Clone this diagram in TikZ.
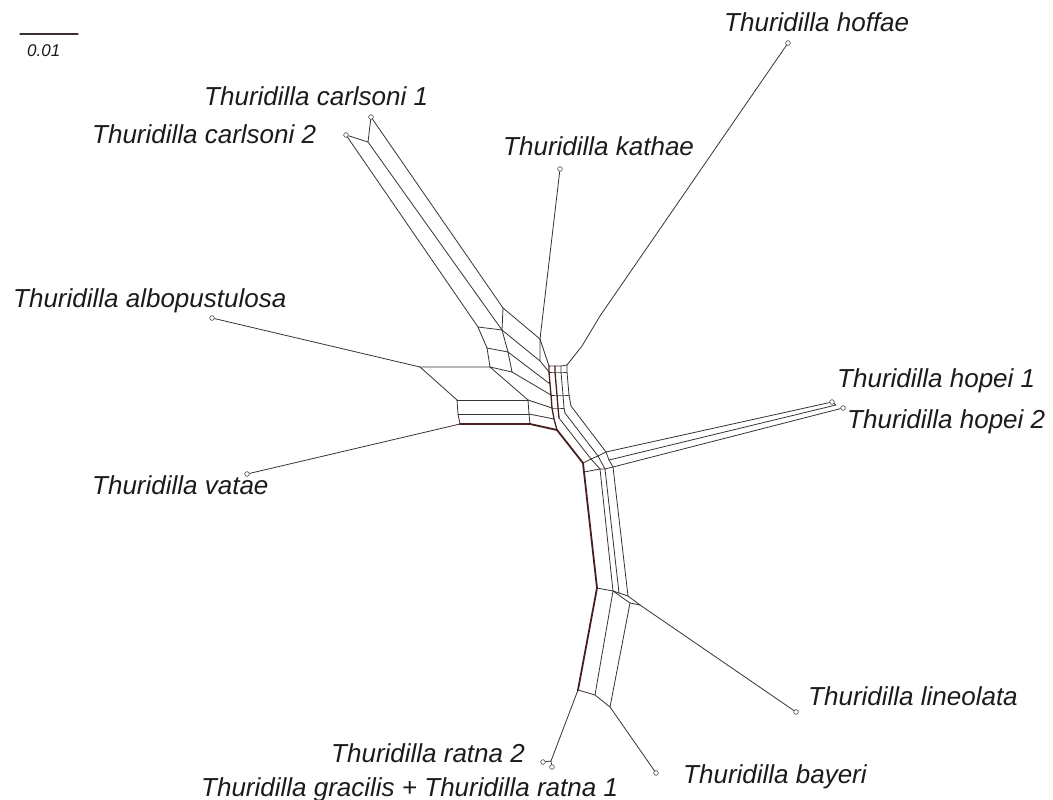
\documentclass[tikz,border=0pt]{standalone}
\usepackage{fontspec}
\setmainfont{Liberation Sans}
\definecolor{lc}{HTML}{3B3131}
\definecolor{tc}{HTML}{4A1E1E}
\definecolor{dc}{HTML}{6A6262}
\definecolor{txt}{HTML}{1E1A1A}
\begin{document}
\begin{tikzpicture}[x=1pt,y=-1pt,
  ln/.style={draw=lc, line width=0.8pt, line join=round, line cap=round},
  md/.style={draw=tc, line width=1.3pt, line join=round, line cap=round},
  tk/.style={draw=tc, line width=1.8pt, line join=round, line cap=round},
  leaf/.style={circle, draw=dc, fill=white, line width=0.6pt, inner sep=0pt, minimum size=4.5pt},
  lab/.style={anchor=base west, inner sep=0pt, font=\fontsize{26}{30}\selectfont\itshape, text=txt},
  slab/.style={anchor=base west, inner sep=0pt, font=\fontsize{17}{20}\selectfont\itshape, text=txt}]
\useasboundingbox (0,0) rectangle (1053,800);
% scale bar
\coordinate (sb1) at (20,34);
\coordinate (sb2) at (78,34);
\draw[ln, line width=1.2pt] (sb1) -- (sb2);
\node[slab] (sbl) at (27,57) {0.01};
% leaves
\node[leaf] (Lhof) at (788,43) {};
\node[leaf] (Lc1) at (371,117) {};
\node[leaf] (Lc2) at (346,135) {};
\node[leaf] (Lkat) at (560,169) {};
\node[leaf] (Lalb) at (212,318) {};
\node[leaf] (Lvat) at (247,474) {};
\node[leaf] (Lhp1) at (832,402) {};
\node[leaf] (Lhp2) at (843,408) {};
\node[leaf] (Llin) at (796,712) {};
\node[leaf] (Lr2) at (543,762) {};
\node[leaf] (Lgr) at (552,767) {};
\node[leaf] (Lbay) at (656,773) {};
% internal nodes
\coordinate (cA) at (368,142);
\coordinate (m1) at (503,308);
\coordinate (m2) at (502,330);
\coordinate (m3) at (478,327);
\coordinate (k1) at (540,339);
\coordinate (d1) at (540,361);
\coordinate (m4) at (487,348);
\coordinate (m5) at (508,352);
\coordinate (m6) at (490,367);
\coordinate (m7) at (512,372);
\coordinate (a1) at (420,367);
\coordinate (b1) at (457,400);
\coordinate (b2) at (458,414);
\coordinate (b3) at (460,424);
\coordinate (b4) at (528,400);
\coordinate (b5) at (529,414);
\coordinate (b6) at (530,424);
\coordinate (h1) at (600,316);
\coordinate (h2) at (582,346);
\coordinate (v0) at (549,366);
\coordinate (v1) at (555,366);
\coordinate (v2) at (561,366);
\coordinate (v3) at (567,365);
\coordinate (e1) at (549,372);
\coordinate (e2) at (550,384);
\coordinate (e3) at (551,395);
\coordinate (e4) at (552,408);
\coordinate (e5) at (554,419);
\coordinate (e6) at (557,430);
\coordinate (f1) at (555,372);
\coordinate (f3) at (557,395);
\coordinate (f4) at (558,408);
\coordinate (f5) at (559,418);
\coordinate (g1) at (561,372);
\coordinate (g3) at (563,395);
\coordinate (g4) at (564,408);
\coordinate (g5) at (565,413);
\coordinate (q1) at (567,372);
\coordinate (q3) at (569,395);
\coordinate (q4) at (571,406);
\coordinate (j0) at (583,463);
\coordinate (j1) at (591,459);
\coordinate (j2) at (598,456);
\coordinate (j3) at (606,452);
\coordinate (jm) at (609,460);
\coordinate (l0) at (584,472);
\coordinate (l1) at (600,469);
\coordinate (l2) at (605,469);
\coordinate (l3) at (613,467);
\coordinate (hm) at (836,405);
\coordinate (n0) at (597,588);
\coordinate (n1) at (613,591);
\coordinate (n1b) at (619,593);
\coordinate (n2) at (628,596);
\coordinate (n3) at (630,603);
\coordinate (n4) at (640,605);
\coordinate (p0) at (578,690);
\coordinate (p1) at (595,695);
\coordinate (p2) at (610,707);
\coordinate (rj) at (551,761);
% carlsoni band
\draw[ln] (Lc1) -- (cA) -- (Lc2);
\draw[ln] (Lc1) -- (m1);
\draw[ln] (cA) -- (m2);
\draw[ln] (Lc2) -- (m3);
\draw[ln] (m1) -- (m2) -- (m3);
\draw[ln] (m1) -- (k1);
\draw[ln] (Lkat) -- (k1);
\draw[ln] (k1) -- (d1) (m2) -- (d1) -- (e1);
\draw[ln] (k1) -- (v0);
\draw[ln] (m3) -- (m4) -- (m6);
\draw[ln] (m2) -- (m5) -- (m7);
\draw[ln] (m4) -- (m5) (m6) -- (m7);
\draw[ln] (m5) -- (e2) (m7) -- (e3);
% albopustulosa / vatae box
\draw[ln] (Lalb) -- (a1) -- (m6);
\draw[ln] (a1) -- (b1) (m6) -- (b4);
\draw[ln] (b1) -- (b2) -- (b3);
\draw[ln] (b4) -- (b5) -- (b6);
\draw[ln] (b1) -- (b4) (b2) -- (b5);
\draw[tk] (b3) -- (b6);
\draw[ln] (Lvat) -- (b3);
\draw[ln] (b4) -- (e4) (b5) -- (e5);
\draw[tk] (b6) -- (e6);
% hoffae
\draw[ln] (Lhof) -- (h1) -- (h2) -- (v3);
% vertical bundle
\draw[ln] (v0) -- (v1) -- (v2) -- (v3);
\draw[md] (v0) -- (e1) -- (e2) -- (e3) -- (e4) -- (e5) -- (e6);
\draw[md] (v1) -- (f1) -- (f3) -- (f4) -- (f5);
\draw[ln] (v2) -- (g1) -- (g3) -- (g4) -- (g5);
\draw[ln] (v3) -- (q1) -- (q3) -- (q4);
\draw[ln] (e1) -- (f1) -- (g1) -- (q1);
\draw[ln] (e3) -- (f3) -- (g3) -- (q3);
\draw[ln] (e4) -- (f4) -- (g4);
% upper trunk
\draw[tk] (e6) -- (j0);
\draw[ln] (f5) -- (j1);
\draw[ln] (g5) -- (j2);
\draw[ln] (q4) -- (j3);
\draw[ln] (j0) -- (j1) -- (j2) -- (j3);
\draw[tk] (j0) -- (l0);
\draw[ln] (j1) -- (l1) (j2) -- (l2) (j3) -- (jm) -- (l3);
\draw[ln] (l0) -- (l1) -- (l2) -- (l3);
% hopei
\draw[ln] (j3) -- (Lhp1);
\draw[ln] (jm) -- (hm) -- (Lhp1);
\draw[ln] (l3) -- (Lhp2);
% lower trunk
\draw[tk] (l0) -- (n0);
\draw[ln] (l1) -- (n1) (l2) -- (n1b) (l3) -- (n2);
\draw[ln] (n0) -- (n1) -- (n1b) -- (n2) -- (n4);
\draw[ln] (n1) -- (n3) -- (n4);
\draw[ln] (n4) -- (Llin);
\draw[tk] (n0) -- (p0);
\draw[ln] (n1) -- (p1) (n3) -- (p2);
\draw[ln] (p0) -- (p1) -- (p2);
\draw[ln] (p0) -- (rj) -- (Lgr) (rj) -- (Lr2);
\draw[ln] (p2) -- (Lbay);
% redraw leaves on top
\foreach \n in {Lhof,Lc1,Lc2,Lkat,Lalb,Lvat,Lhp1,Lhp2,Llin,Lr2,Lgr,Lbay}
  \node[leaf] at (\n) {};
% labels
\node[lab] (tHof) at (724,32) {Thuridilla hoffae};
\node[lab] (tC1) at (204,106) {Thuridilla carlsoni 1};
\node[lab] (tC2) at (92,143) {Thuridilla carlsoni 2};
\node[lab] (tKat) at (503,155) {Thuridilla kathae};
\node[lab] (tAlb) at (13,307) {Thuridilla albopustulosa};
\node[lab] (tHp1) at (837,387) {Thuridilla hopei 1};
\node[lab] (tHp2) at (847,428) {Thuridilla hopei 2};
\node[lab] (tVat) at (92,494) {Thuridilla vatae};
\node[lab] (tLin) at (808,705) {Thuridilla lineolata};
\node[lab] (tR2) at (331,762) {Thuridilla ratna 2};
\node[lab] (tGr) at (201,796) {Thuridilla gracilis + Thuridilla ratna 1};
\node[lab] (tBay) at (683,783) {Thuridilla bayeri};
\end{tikzpicture}
\end{document}
